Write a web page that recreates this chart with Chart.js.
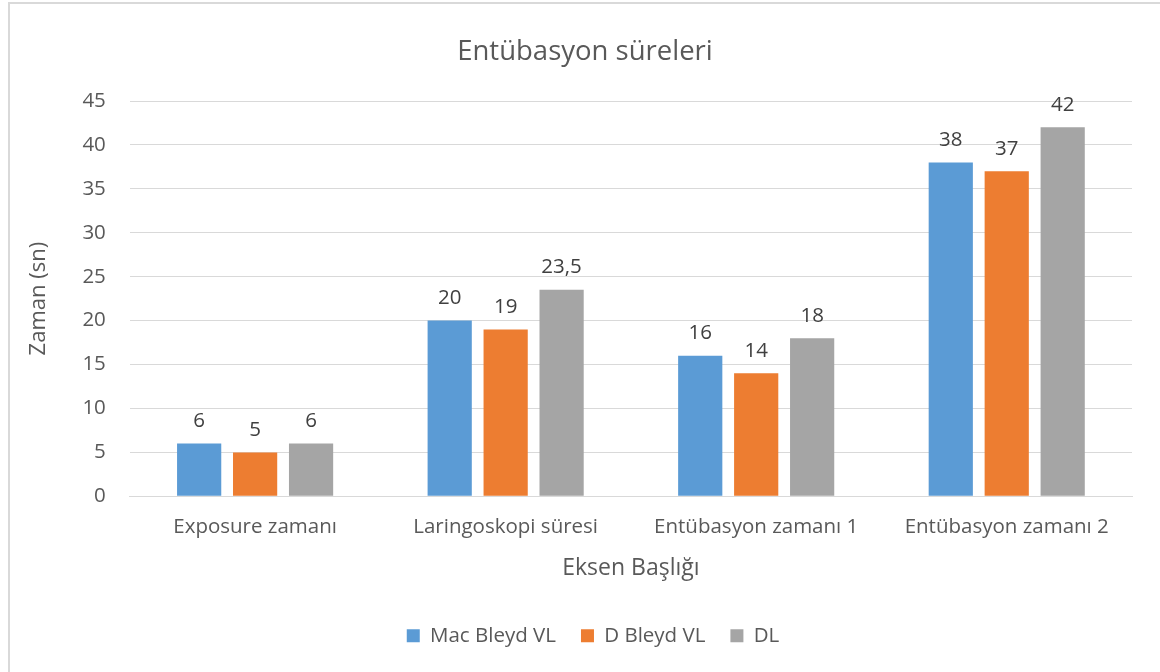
<!DOCTYPE html>
<html>
<head>
<meta charset="utf-8">
<script src="https://cdn.jsdelivr.net/npm/chart.js@4"></script>
<style>
  html, body { margin: 0; padding: 0; background: #fff; overflow: hidden; }
  .frame { position: absolute; left: 8px; top: 2px; width: 1200px; height: 720px; border: 2px solid #d9d9d9; box-sizing: border-box; }
  .wrap { position: absolute; left: 0; top: 0; width: 1160px; height: 672px; }
</style>
</head>
<body>
<div class="frame"></div>
<div class="wrap"><canvas id="chart"></canvas></div>
<script>
  const categories = ['Exposure zamanı', 'Laringoskopi süresi', 'Entübasyon zamanı 1', 'Entübasyon zamanı 2'];
  const macBleyd = [6, 20, 16, 38];
  const dBleyd = [5, 19, 14, 37];
  const dl = [6, 23.5, 18, 42];
  const yTicks = [0, 5, 10, 15, 20, 25, 30, 35, 40, 45];

  const fontFamily = "'Open Sans', 'Noto Sans', sans-serif";
  const textGrey = '#595959';

  // values above the bars, comma decimals like the source
  const barLabels = {
    id: 'barLabels',
    afterDatasetsDraw(chart) {
      const ctx = chart.ctx;
      ctx.save();
      ctx.font = '20.5px ' + fontFamily;
      ctx.fillStyle = '#404040';
      ctx.textAlign = 'center';
      ctx.textBaseline = 'bottom';
      chart.data.datasets.forEach((ds, i) => {
        chart.getDatasetMeta(i).data.forEach((bar, j) => {
          ctx.fillText(String(ds.data[j]).replace('.', ','), bar.x, bar.y - 12);
        });
      });
      ctx.restore();
    },
  };

  // title and legend sit a bit right of the canvas centre in the original
  const nudge = {
    id: 'nudge',
    afterLayout(chart) {
      if (chart.titleBlock) {
        chart.titleBlock.left += 8;
        chart.titleBlock.right += 8;
      }
      if (chart.legend) {
        chart.legend.left += 16;
        chart.legend.right += 16;
        chart.legend.adjustHitBoxes();
      }
    },
  };

  const barOpts = { categoryPercentage: 0.67, barPercentage: 0.79 };

  new Chart(document.getElementById('chart'), {
    type: 'bar',
    data: {
      labels: categories,
      datasets: [
        { label: 'Mac Bleyd VL', data: macBleyd, backgroundColor: '#5B9BD5', ...barOpts },
        { label: 'D Bleyd VL', data: dBleyd, backgroundColor: '#ED7D31', ...barOpts },
        { label: 'DL', data: dl, backgroundColor: '#A5A5A5', ...barOpts },
      ],
    },
    options: {
      responsive: true,
      maintainAspectRatio: false,
      animation: false,
      layout: { padding: { left: 22, right: 28, top: 18, bottom: 16 } },
      plugins: {
        title: {
          display: true,
          text: 'Entübasyon süreleri',
          color: textGrey,
          font: { family: fontFamily, size: 27.5, weight: 'normal' },
          padding: { top: 18, bottom: 32 },
        },
        legend: {
          position: 'bottom',
          labels: {
            color: textGrey,
            font: { family: fontFamily, size: 20.5 },
            boxWidth: 13,
            boxHeight: 13,
            padding: 25,
          },
        },
        tooltip: { enabled: false },
      },
      scales: {
        x: {
          grid: { display: false },
          border: { color: '#d9d9d9' },
          ticks: { color: textGrey, font: { family: fontFamily, size: 20.5 }, padding: 11 },
          title: {
            display: true,
            text: 'Eksen Başlığı',
            color: textGrey,
            font: { family: fontFamily, size: 23 },
            padding: { top: 4, bottom: 18 },
          },
        },
        y: {
          min: 0,
          max: 45,
          afterBuildTicks: (axis) => { axis.ticks = yTicks.map((v) => ({ value: v })); },
          grid: { color: '#d9d9d9', drawTicks: false },
          border: { display: false },
          ticks: { color: textGrey, font: { family: fontFamily, size: 20.5 }, padding: 24 },
          title: {
            display: true,
            text: 'Zaman (sn)',
            color: textGrey,
            font: { family: fontFamily, size: 22 },
            padding: { bottom: 6 },
          },
        },
      },
    },
    plugins: [barLabels, nudge],
  });
</script>
</body>
</html>
